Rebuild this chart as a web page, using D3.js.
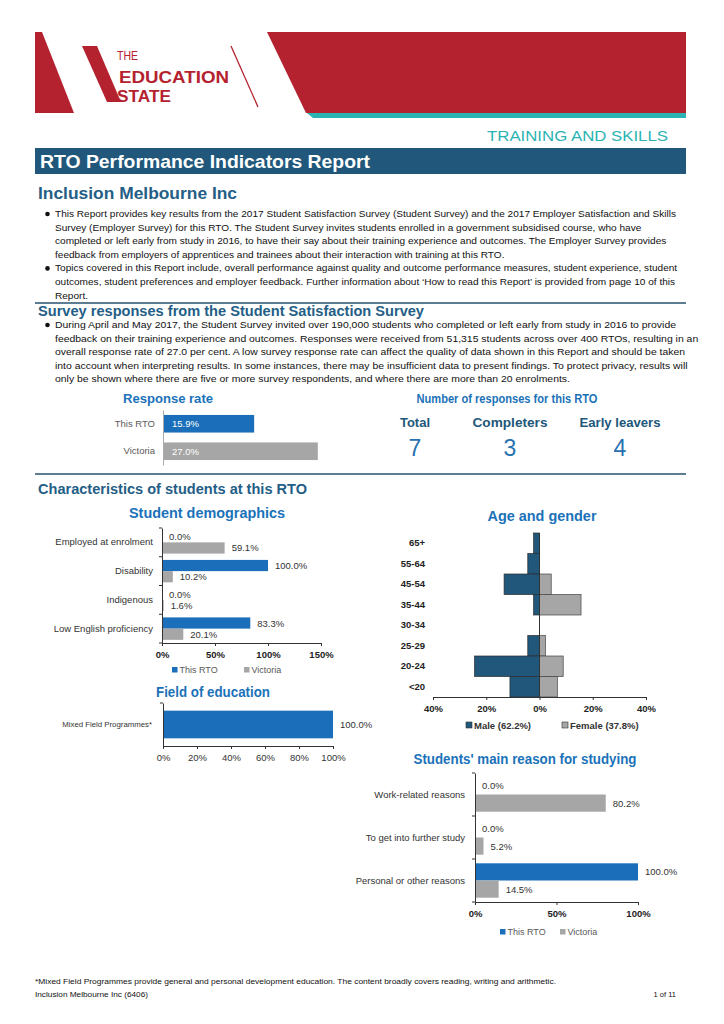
<!DOCTYPE html>
<html>
<head>
<meta charset="utf-8">
<script src="https://cdn.jsdelivr.net/npm/d3@7"></script>
<style>
  body { margin: 0; background: #fff; }
  svg text { font-family: "Liberation Sans", Arial, Helvetica, sans-serif; }
</style>
</head>
<body>
<svg id="page" width="724" height="1024"></svg>
<script>
// ---- data ----
var responseGroups = ["This RTO", "Victoria"];
var responseRates = [15.9, 27.0];

var countLabels = ["Total", "Completers", "Early leavers"];
var countValues = [7, 3, 4];

var demoCats = ["Employed at enrolment", "Disability", "Indigenous", "Low English proficiency"];
var demoRTO = [0.0, 100.0, 0.0, 83.3];
var demoVic = [59.1, 10.2, 1.6, 20.1];
var demoTicks = [0, 50, 100, 150];

var ageGroups = ["65+", "55-64", "45-54", "35-44", "30-34", "25-29", "20-24", "<20"];
var maleShare = [2.2, 4.4, 13.3, 2.2, 0, 4.4, 24.4, 11.1];
var femaleShare = [0, 0, 4.4, 15.6, 0, 2.2, 8.9, 6.7];
var genderNames = ["Male (62.2%)", "Female (37.8%)"];
var ageTicks = [-40, -20, 0, 20, 40];

var fieldCats = ["Mixed Field Programmes*"];
var fieldShare = [100.0];
var fieldTicks = [0, 20, 40, 60, 80, 100];

var reasonCats = ["Work-related reasons", "To get into further study", "Personal or other reasons"];
var reasonRTO = [0.0, 0.0, 100.0];
var reasonVic = [80.2, 5.2, 14.5];
var reasonTicks = [0, 50, 100];

var seriesNames = ["This RTO", "Victoria"];

var introBullets = [
  ["This Report provides key results from the 2017 Student Satisfaction Survey  (Student Survey) and the 2017 Employer Satisfaction and Skills",
   "Survey  (Employer Survey) for this RTO.  The Student Survey invites students enrolled in a government subsidised course, who have",
   "completed or left early from study in 2016, to have their say about their training experience and outcomes. The Employer Survey provides",
   "feedback from employers of apprentices and trainees about their interaction with training at this RTO."],
  ["Topics covered in this Report include, overall performance against quality and outcome performance measures, student experience, student",
   "outcomes, student preferences and employer feedback.  Further information about \u2018How to read this Report\u2019 is provided from page 10 of this",
   "Report."]
];
var surveyBullets = [
  ["During April and May 2017, the Student Survey invited over 190,000 students who completed or left early from study in 2016 to provide",
   "feedback on their training experience and outcomes. Responses were received from 51,315 students across over 400 RTOs, resulting in an",
   "overall response rate of 27.0 per cent.  A low survey response rate can affect the quality of data shown in this Report and should be taken",
   "into account when interpreting results. In some instances, there may be insufficient data to present findings. To protect privacy, results will",
   "only be shown where there are five or more survey respondents, and where there are more than 20 enrolments."]
];

// ---- colours ----
var RED = "#b5222f", TEAL = "#2bb3b4", NAVY = "#20577b", HEAD = "#245e86",
    SUB = "#1a72b9", BLUE = "#1b6fba", GREY = "#a6a6a6", TXT = "#222";

var svg = d3.select("#page");

function label(g, x, y, s, size, opt) {
  opt = opt || {};
  var t = g.append("text").attr("x", x).attr("y", y).text(s)
    .attr("font-size", size)
    .attr("fill", opt.fill || TXT)
    .attr("font-weight", opt.bold ? "bold" : "normal")
    .attr("text-anchor", opt.anchor || "start");
  if (opt.width) t.attr("textLength", opt.width).attr("lengthAdjust", "spacingAndGlyphs");
  return t;
}

// ---- banner ----
svg.append("polygon").attr("points", "35,32 42,32 74,113 35,113").attr("fill", RED);
svg.append("polygon").attr("points", "267,32 686,32 686,113 306,113").attr("fill", RED);
svg.append("polygon").attr("points", "307,113 686,113 686,118 313,118").attr("fill", TEAL);
svg.append("polygon").attr("points", "82,46 97,46 121,102 107,102").attr("fill", RED);
svg.append("line").attr("x1", 231).attr("y1", 46).attr("x2", 258).attr("y2", 107)
  .attr("stroke", RED).attr("stroke-width", 1.3);
label(svg, 117, 60, "THE", 13, {fill: RED, width: 21});
label(svg, 119, 83, "EDUCATION", 17, {fill: RED, bold: true, width: 110});
label(svg, 117, 102, "STATE", 17, {fill: RED, bold: true, width: 54});

label(svg, 668, 141, "TRAINING AND SKILLS", 15, {fill: TEAL, anchor: "end", width: 181});

svg.append("rect").attr("x", 35).attr("y", 148).attr("width", 651).attr("height", 26).attr("fill", NAVY);
label(svg, 40, 168, "RTO Performance Indicators Report", 19, {fill: "#fff", bold: true, width: 330});

// ---- headings and paragraphs ----
label(svg, 38, 199, "Inclusion Melbourne Inc", 16, {fill: HEAD, bold: true, width: 199});

function paragraphs(blocks, y0, lh) {
  var g = svg.append("g"), y = y0;
  // measure first line and stretch everything by the same factor
  var probe = label(g, 0, -100, blocks[0][0], 8.6);
  var k = 621 / probe.node().getComputedTextLength();
  probe.remove();
  blocks.forEach(function(lines) {
    g.append("circle").attr("cx", 47.5).attr("cy", y - 3).attr("r", 2.3).attr("fill", "#111");
    lines.forEach(function(s) {
      var t = label(g, 55, y, s, 8.6, {fill: "#111"});
      t.attr("textLength", t.node().getComputedTextLength() * k).attr("lengthAdjust", "spacingAndGlyphs");
      y += lh;
    });
  });
}
paragraphs(introBullets, 217, 13.6);

function rule(y) {
  svg.append("line").attr("x1", 35).attr("x2", 686).attr("y1", y).attr("y2", y)
    .attr("stroke", "#5d7d93").attr("stroke-width", 2);
}
rule(303);
label(svg, 38, 316, "Survey responses from the Student Satisfaction Survey", 14, {fill: HEAD, bold: true, width: 386});
paragraphs(surveyBullets, 328, 13.6);

// ---- response rate ----
(function() {
  var g = svg.append("g");
  label(g, 123, 403, "Response rate", 13, {fill: SUB, bold: true, width: 90});
  var x = d3.scaleLinear().domain([0, 30]).range([163, 335]);
  var y = d3.scaleBand().domain(responseGroups).range([410, 465]).paddingInner(0.36).paddingOuter(0.18);
  g.selectAll("rect.r").data(responseGroups).join("rect")
    .attr("x", x(0)).attr("y", function(d) { return y(d); })
    .attr("width", function(d, i) { return x(responseRates[i]) - x(0); })
    .attr("height", y.bandwidth())
    .attr("fill", function(d, i) { return i === 0 ? BLUE : GREY; });
  g.selectAll("text.v").data(responseGroups).join("text")
    .attr("x", x(0) + 9).attr("y", function(d) { return y(d) + y.bandwidth() / 2 + 3.5; })
    .attr("font-size", 9.5).attr("fill", "#fff")
    .text(function(d, i) { return responseRates[i].toFixed(1) + "%"; });
  var ax = g.append("g").attr("transform", "translate(" + x(0) + ",0)")
    .call(d3.axisLeft(y).tickSize(0).tickPadding(8));
  ax.select(".domain").attr("stroke", "#aaa");
  ax.selectAll("text").attr("font-size", 9.5).attr("fill", "#595959").attr("font-family", null);

  label(g, 507, 403, "Number of responses for this RTO", 13, {fill: SUB, bold: true, anchor: "middle", width: 181});
  var cxs = [415, 510, 620];
  var cw = [30, 75, 81];
  countLabels.forEach(function(d, i) {
    label(g, cxs[i], 427, d, 13, {fill: NAVY, bold: true, anchor: "middle", width: cw[i]});
    label(g, cxs[i], 456, String(countValues[i]), 23, {fill: "#2672b0", anchor: "middle"});
  });
})();
rule(474);

label(svg, 38, 494, "Characteristics of students at this RTO", 14, {fill: HEAD, bold: true, width: 269});

// generic grouped horizontal bar chart (This RTO vs Victoria)
function groupedBars(opt) {
  var g = svg.append("g");
  var x = d3.scaleLinear().domain(opt.domain).range([opt.x0, opt.x1]);
  var y = d3.scaleBand().domain(opt.cats).range([opt.y0, opt.y1]).paddingInner(opt.pad).paddingOuter(opt.pad / 2);
  var sub = d3.scaleBand().domain(seriesNames).range([0, y.bandwidth()]);
  var rows = [];
  opt.cats.forEach(function(c, i) {
    rows.push({c: c, s: seriesNames[0], v: opt.a[i]});
    rows.push({c: c, s: seriesNames[1], v: opt.b[i]});
  });
  g.selectAll("rect").data(rows).join("rect")
    .attr("x", x(0)).attr("y", function(d) { return y(d.c) + sub(d.s); })
    .attr("width", function(d) { return x(d.v) - x(0); })
    .attr("height", sub.bandwidth())
    .attr("fill", function(d) { return d.s === seriesNames[0] ? BLUE : GREY; });
  g.selectAll("text.val").data(rows).join("text").attr("class", "val")
    .attr("x", function(d) { return x(d.v) + 7; })
    .attr("y", function(d) { return y(d.c) + sub(d.s) + sub.bandwidth() / 2 + 3.5; })
    .attr("font-size", 9.5).attr("fill", "#333")
    .text(function(d) { return d.v.toFixed(1) + "%"; });
  var xa = g.append("g").attr("transform", "translate(0," + opt.y1 + ")")
    .call(d3.axisBottom(x).tickValues(opt.ticks).tickSize(3).tickPadding(5).tickFormat(function(d) { return d + "%"; }));
  xa.select(".domain").attr("stroke", "#333");
  xa.selectAll("line").attr("stroke", "#333");
  xa.selectAll("text").attr("font-size", 9.5).attr("fill", "#222").attr("font-weight", "bold").attr("font-family", null);
  var ya = g.append("g").attr("transform", "translate(" + x(0) + ",0)")
    .call(d3.axisLeft(y).tickSize(0).tickPadding(x(0) - opt.labelX));
  ya.select(".domain").attr("stroke", "#333");
  ya.selectAll("text").attr("font-size", opt.labelSize).attr("fill", "#333").attr("font-family", null);
  // category boundary ticks
  var bounds = d3.range(opt.cats.length + 1).map(function(i) { return opt.y0 + i * y.step(); });
  g.selectAll("line.bt").data(bounds).join("line")
    .attr("x1", x(0) - 3).attr("x2", x(0)).attr("y1", function(d) { return d; }).attr("y2", function(d) { return d; })
    .attr("stroke", "#333");
  // legend
  var lg = g.append("g");
  seriesNames.forEach(function(s, i) {
    lg.append("rect").attr("x", opt.legX[i]).attr("y", opt.legY - 6).attr("width", 5.5).attr("height", 5.5)
      .attr("fill", i === 0 ? BLUE : GREY);
    label(lg, opt.legX[i] + 7.5, opt.legY, s, 9, {fill: "#595959"});
  });
  return g;
}

// ---- student demographics ----
label(svg, 207, 518, "Student demographics", 14, {fill: SUB, bold: true, anchor: "middle", width: 156});
groupedBars({cats: demoCats, a: demoRTO, b: demoVic, domain: [0, 150], ticks: demoTicks,
  x0: 162, x1: 321, y0: 528, y1: 643, pad: 0.22, labelX: 153, labelSize: 9.5,
  legX: [172, 244], legY: 673});

// ---- field of education ----
(function() {
  var g = svg.append("g");
  label(g, 156, 697, "Field of education", 14, {fill: SUB, bold: true, width: 114});
  var x = d3.scaleLinear().domain([0, 100]).range([163, 333]);
  var y = d3.scaleBand().domain(fieldCats).range([703, 746]).paddingInner(0.35).paddingOuter(0.18);
  g.selectAll("rect").data(fieldCats).join("rect")
    .attr("x", x(0)).attr("y", function(d) { return y(d); })
    .attr("width", function(d, i) { return x(fieldShare[i]) - x(0); })
    .attr("height", y.bandwidth()).attr("fill", BLUE);
  g.selectAll("text.val").data(fieldCats).join("text").attr("class", "val")
    .attr("x", function(d, i) { return x(fieldShare[i]) + 7; })
    .attr("y", function(d) { return y(d) + y.bandwidth() / 2 + 3.5; })
    .attr("font-size", 9.5).attr("fill", "#333")
    .text(function(d, i) { return fieldShare[i].toFixed(1) + "%"; });
  var xa = g.append("g").attr("transform", "translate(0,746)")
    .call(d3.axisBottom(x).tickValues(fieldTicks).tickSize(3).tickPadding(5).tickFormat(function(d) { return d + "%"; }));
  xa.select(".domain").attr("stroke", "#333");
  xa.selectAll("line").attr("stroke", "#333");
  xa.selectAll("text").attr("font-size", 9.5).attr("fill", "#333").attr("font-family", null);
  var ya = g.append("g").attr("transform", "translate(" + x(0) + ",0)")
    .call(d3.axisLeft(y).tickSize(0).tickPadding(11));
  ya.select(".domain").attr("stroke", "#333");
  ya.selectAll("text").attr("font-size", 7.8).attr("fill", "#333").attr("font-family", null);
  g.append("line").attr("x1", x(0) - 3).attr("x2", x(0)).attr("y1", 703).attr("y2", 703).attr("stroke", "#333");
})();

// ---- age and gender ----
(function() {
  var g = svg.append("g");
  label(g, 542, 521, "Age and gender", 14, {fill: SUB, bold: true, anchor: "middle", width: 109});
  var x = d3.scaleLinear().domain([-40, 40]).range([433, 646]);
  var y = d3.scaleBand().domain(ageGroups).range([533, 697]).padding(0);
  g.selectAll("rect.m").data(ageGroups).join("rect").attr("class", "m")
    .attr("x", function(d, i) { return x(-maleShare[i]); }).attr("y", function(d) { return y(d); })
    .attr("width", function(d, i) { return x(0) - x(-maleShare[i]); }).attr("height", y.bandwidth())
    .attr("fill", NAVY).attr("stroke", "#2b2b2b").attr("stroke-width", 0.7)
    .style("display", function(d, i) { return maleShare[i] ? null : "none"; });
  g.selectAll("rect.f").data(ageGroups).join("rect").attr("class", "f")
    .attr("x", x(0)).attr("y", function(d) { return y(d); })
    .attr("width", function(d, i) { return x(femaleShare[i]) - x(0); }).attr("height", y.bandwidth())
    .attr("fill", GREY).attr("stroke", "#444").attr("stroke-width", 0.7)
    .style("display", function(d, i) { return femaleShare[i] ? null : "none"; });
  g.append("line").attr("x1", x(0)).attr("x2", x(0)).attr("y1", 533).attr("y2", 697).attr("stroke", "#333");
  var xa = g.append("g").attr("transform", "translate(0,697)")
    .call(d3.axisBottom(x).tickValues(ageTicks).tickSize(3).tickPadding(5).tickFormat(function(d) { return Math.abs(d) + "%"; }));
  xa.select(".domain").attr("stroke", "#333");
  xa.selectAll("line").attr("stroke", "#333");
  xa.selectAll("text").attr("font-size", 9.5).attr("fill", "#222").attr("font-weight", "bold").attr("font-family", null);
  var ya = g.append("g").attr("transform", "translate(433,0)")
    .call(d3.axisLeft(y).tickSize(0).tickPadding(8));
  ya.select(".domain").remove();
  ya.selectAll("text").attr("font-size", 9.5).attr("fill", "#222").attr("font-weight", "bold").attr("font-family", null);
  var legX = [466, 562];
  genderNames.forEach(function(s, i) {
    g.append("rect").attr("x", legX[i]).attr("y", 722).attr("width", 6).attr("height", 6)
      .attr("fill", i === 0 ? NAVY : GREY).attr("stroke", "#333").attr("stroke-width", 0.6);
    label(g, legX[i] + 8, 729, s, 9.5, {fill: "#333", bold: true});
  });
})();

// ---- main reason for studying ----
label(svg, 525, 764, "Students' main reason for studying", 14, {fill: SUB, bold: true, anchor: "middle", width: 223});
groupedBars({cats: reasonCats, a: reasonRTO, b: reasonVic, domain: [0, 100], ticks: reasonTicks,
  x0: 475, x1: 638, y0: 773, y1: 902, pad: 0.2, labelX: 465, labelSize: 9.5,
  legX: [500, 560], legY: 935});

// ---- footer ----
label(svg, 35, 984, "*Mixed Field Programmes provide general and personal development education. The content broadly covers reading, writing and arithmetic.", 7, {fill: "#111", width: 521});
label(svg, 35, 997, "Inclusion Melbourne Inc (6406)", 7.5, {fill: "#111", width: 113});
label(svg, 676, 997, "1 of 11", 7.5, {fill: "#111", anchor: "end"});
</script>
</body>
</html>
